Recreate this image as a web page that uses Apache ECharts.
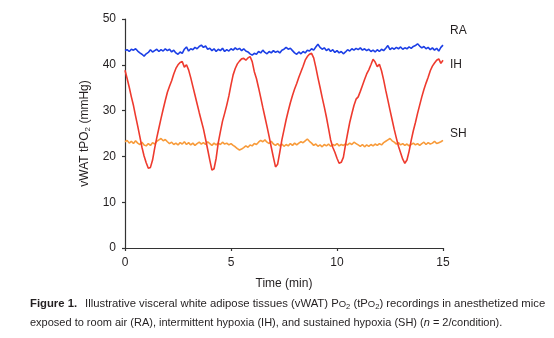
<!DOCTYPE html>
<html>
<head>
<meta charset="utf-8">
<script src="https://cdn.jsdelivr.net/npm/echarts@6/dist/echarts.min.js"></script>
<style>
  html, body { margin: 0; padding: 0; background: #fff; }
  #chart { width: 554px; height: 338px; }
</style>
</head>
<body>
<div id="chart"></div>
<script>
// Tissue PO2 traces (mmHg), one sample every 0.1 min over 15 min
const SAMPLE_MIN = 0.1;

const RA = [
  43.1, 43.3, 42.9, 43.4, 43.2, 43.5, 43.0, 42.6, 42.3, 41.9,
  42.4, 42.7, 43.3, 42.8, 43.1, 43.4, 42.9, 43.3, 43.0, 43.5,
  43.1, 43.4, 42.8, 43.2, 42.6, 42.3, 42.8, 42.5, 43.4, 43.9,
  43.0, 43.5, 43.3, 43.8, 43.5, 44.0, 44.3, 43.8, 44.1, 43.4,
  43.6, 43.1, 43.5, 42.9, 43.4, 43.1, 43.6, 42.9, 43.3, 43.0,
  43.5, 43.2, 43.7, 43.3, 43.6, 43.1, 43.5, 43.0, 42.8, 42.4,
  42.1, 42.5, 42.3, 42.9, 42.6, 43.2, 42.7, 42.4, 42.9, 42.6,
  43.1, 42.7, 43.0, 42.6, 43.2, 43.4, 43.8, 43.4, 43.6, 43.1,
  42.6, 42.3, 42.8, 42.4, 42.9, 42.6, 43.2, 43.0, 43.5, 43.2,
  43.9, 44.5, 43.8, 43.4, 43.7, 43.1, 43.5, 42.9, 43.3, 42.7,
  43.1, 42.6, 42.9, 42.4, 42.8, 43.3, 43.0, 43.5, 43.2, 43.6,
  43.3, 43.7, 43.2, 43.5, 43.1, 43.4, 42.9, 43.2, 42.8, 43.3,
  42.9, 43.4, 43.1, 43.6, 44.2, 43.3, 43.7, 43.4, 43.8, 43.5,
  43.9, 43.4, 43.7, 43.5, 43.9, 43.6, 44.0, 44.2, 44.6, 44.1,
  43.7, 44.0, 43.5, 43.8, 43.3, 43.7, 43.2, 43.6, 43.0, 43.8,
  44.3
];

const IH = [
  38.8, 37.0, 35.1, 33.0, 31.1, 28.8, 26.6, 24.3, 22.0, 20.1,
  18.6, 17.4, 17.6, 19.2, 21.8, 24.1, 26.2, 28.3, 30.3, 32.2,
  34.0, 35.3, 36.5, 38.0, 39.2, 40.0, 40.5, 40.7, 39.5, 40.0,
  38.9, 37.2, 35.3, 33.4, 31.5, 29.6, 27.8, 26.0, 23.8, 21.5,
  19.2, 17.0, 17.3, 19.6, 23.0, 25.4, 27.7, 29.4, 31.2, 33.2,
  35.6, 37.8, 39.2, 40.2, 40.8, 41.3, 41.4, 41.0, 41.5, 41.8,
  40.7, 38.5, 37.0, 35.0, 32.9, 30.7, 28.6, 26.5, 24.3, 22.0,
  19.8, 17.7, 18.3, 20.9, 23.6, 25.8, 28.0, 29.9, 31.7, 33.3,
  34.7, 35.9, 37.3, 38.5, 39.7, 41.0, 41.8, 42.3, 42.5, 41.5,
  39.5, 37.2, 35.1, 32.9, 30.8, 28.6, 26.1, 23.6, 22.0, 20.9,
  19.6, 18.5, 18.7, 19.8, 22.5, 25.0, 27.4, 29.3, 31.1, 32.5,
  33.0, 34.2, 35.5, 36.8, 38.0, 38.9, 40.0, 41.2, 40.6, 39.6,
  40.1, 38.7, 36.7, 34.4, 32.3, 30.1, 28.0, 25.9, 24.0, 22.2,
  20.8, 19.4, 18.5, 19.2, 21.1, 23.5, 25.6, 27.4, 29.4, 31.2,
  33.0, 34.6, 36.0, 37.3, 38.7, 39.7, 40.4, 41.0, 41.3, 40.3,
  41.0
];

const SH = [
  23.2, 23.5, 22.9, 23.3, 22.8, 23.4, 22.9, 22.6, 23.1, 22.5,
  22.3, 22.8, 22.4, 23.0, 22.7, 23.3, 23.6, 23.9, 23.4, 23.7,
  23.2, 22.8, 23.1, 22.6, 22.9, 22.5, 23.0, 22.7, 23.2, 22.6,
  23.0, 22.5, 22.9, 22.4, 22.8, 23.1, 22.7, 23.0, 22.6, 23.2,
  22.8, 22.4, 22.9, 22.5, 22.9, 22.6, 23.1, 22.7, 22.9, 22.5,
  22.8, 22.4, 22.1, 21.7, 21.4, 21.6, 21.9, 22.3, 22.0, 22.5,
  22.3, 22.8, 22.6, 23.1, 23.5, 23.2, 23.6, 23.1, 22.8, 23.3,
  22.7, 22.4, 22.8, 22.3, 22.7, 22.2, 22.6, 22.3, 22.8, 22.4,
  22.9, 22.5, 22.9, 23.2, 23.0, 23.4, 23.8, 23.3, 22.9, 22.4,
  22.7, 22.2, 22.5, 22.1, 22.6, 22.3, 22.7, 22.2, 22.6, 22.4,
  22.8, 22.3, 22.6, 22.4, 22.7, 22.5, 22.9, 22.6, 23.1, 22.8,
  22.5, 22.2, 22.6, 22.1, 22.5, 22.2, 22.6, 22.3, 22.7, 22.4,
  22.8, 22.5, 23.0, 23.3, 23.6, 23.9, 23.4, 23.1, 22.7, 23.0,
  22.5, 22.8, 22.4, 22.7, 22.3, 22.6, 22.9, 22.5, 22.8, 22.4,
  22.8, 23.1, 22.6, 23.0, 22.7, 22.9, 23.3, 22.8, 23.0, 23.2,
  23.5
];

const X_RANGE = [0, 15];
const X_STEP = 5;
const Y_RANGE = [0, 50];
const Y_STEP = 10;

const FONT = '"Liberation Sans", Arial, Helvetica, sans-serif';
const INK = '#231f20';
const COLORS = { RA: '#1c3fe6', IH: '#ee3a2e', SH: '#f89b3a' };

// sample index -> time in minutes
function toPairs(values) {
  return values.map((v, i) => [Math.round(i * SAMPLE_MIN * 10) / 10, v]);
}

const chart = echarts.init(document.getElementById('chart'), null, { renderer: 'canvas' });

const traceData = { RA: RA, IH: IH, SH: SH };

function traceSeries(name, z) {
  return {
    name: name,
    type: 'line',
    data: toPairs(traceData[name]),
    showSymbol: false,
    symbol: 'none',
    z: z,
    lineStyle: { color: COLORS[name], width: 1.6 },
    itemStyle: { color: COLORS[name] },
    emphasis: { disabled: true },
    animation: false
  };
}

const axisCommon = {
  axisLine: { show: true, lineStyle: { color: '#333', width: 1.2 } },
  axisTick: { show: true, length: 3, lineStyle: { color: '#333', width: 1.2 } },
  splitLine: { show: false },
  axisLabel: { color: INK, fontSize: 12, fontFamily: FONT, margin: 9 }
};

const subStyle = { fontSize: 8, lineHeight: 9, verticalAlign: 'bottom', fontFamily: FONT, color: INK };

chart.setOption({
  backgroundColor: '#ffffff',
  animation: false,
  grid: { left: 125, top: 19, width: 318, height: 229, containLabel: false },
  xAxis: Object.assign({}, axisCommon, {
    type: 'value',
    min: X_RANGE[0], max: X_RANGE[1], interval: X_STEP,
    name: 'Time (min)',
    nameLocation: 'middle',
    nameGap: 30,
    nameTextStyle: { color: INK, fontSize: 12, fontFamily: FONT }
  }),
  yAxis: Object.assign({}, axisCommon, {
    type: 'value',
    min: Y_RANGE[0], max: Y_RANGE[1], interval: Y_STEP,
    name: 'vWAT tPO{sub|2} (mmHg)',
    nameLocation: 'middle',
    nameRotate: 90,
    nameGap: 28,
    nameTextStyle: {
      color: INK, fontSize: 12, fontFamily: FONT, lineHeight: 14,
      rich: { sub: subStyle }
    }
  }),
  series: [traceSeries('SH', 2), traceSeries('RA', 3), traceSeries('IH', 4)],
  graphic: [
    { type: 'text', x: 450, y: 31, style: { text: 'RA', fill: INK, font: '12px ' + FONT, textVerticalAlign: 'middle' } },
    { type: 'text', x: 450, y: 65, style: { text: 'IH', fill: INK, font: '12px ' + FONT, textVerticalAlign: 'middle' } },
    { type: 'text', x: 450, y: 134, style: { text: 'SH', fill: INK, font: '12px ' + FONT, textVerticalAlign: 'middle' } },
    {
      type: 'text', x: 30, y: 304,
      style: {
        text: '{b|Figure 1.}Illustrative visceral white adipose tissues (vWAT) P{sc|O}{sub|2} (tP{sc|O}{sub|2}) recordings in anesthetized mice',
        fill: INK, fontSize: 11.3, fontFamily: FONT, lineHeight: 14, verticalAlign: 'middle',
        rich: {
          b: { fontWeight: 'bold', fontSize: 11.3, fontFamily: FONT, fill: INK, lineHeight: 14, padding: [0, 8, 0, 0] },
          sc: { fontSize: 9.5, fontFamily: FONT, fill: INK, lineHeight: 14 },
          sub: { fontSize: 7.5, lineHeight: 8, verticalAlign: 'bottom', fontFamily: FONT, fill: INK }
        }
      }
    },
    {
      type: 'text', x: 30, y: 323,
      style: {
        text: 'exposed to room air (RA), intermittent hypoxia (IH), and sustained hypoxia (SH) ({i|n} = 2/condition).',
        fill: INK, fontSize: 11, fontFamily: FONT, lineHeight: 14, verticalAlign: 'middle',
        rich: {
          i: { fontStyle: 'italic', fontSize: 11, fontFamily: FONT, fill: INK, lineHeight: 14 }
        }
      }
    }
  ]
});
</script>
</body>
</html>
